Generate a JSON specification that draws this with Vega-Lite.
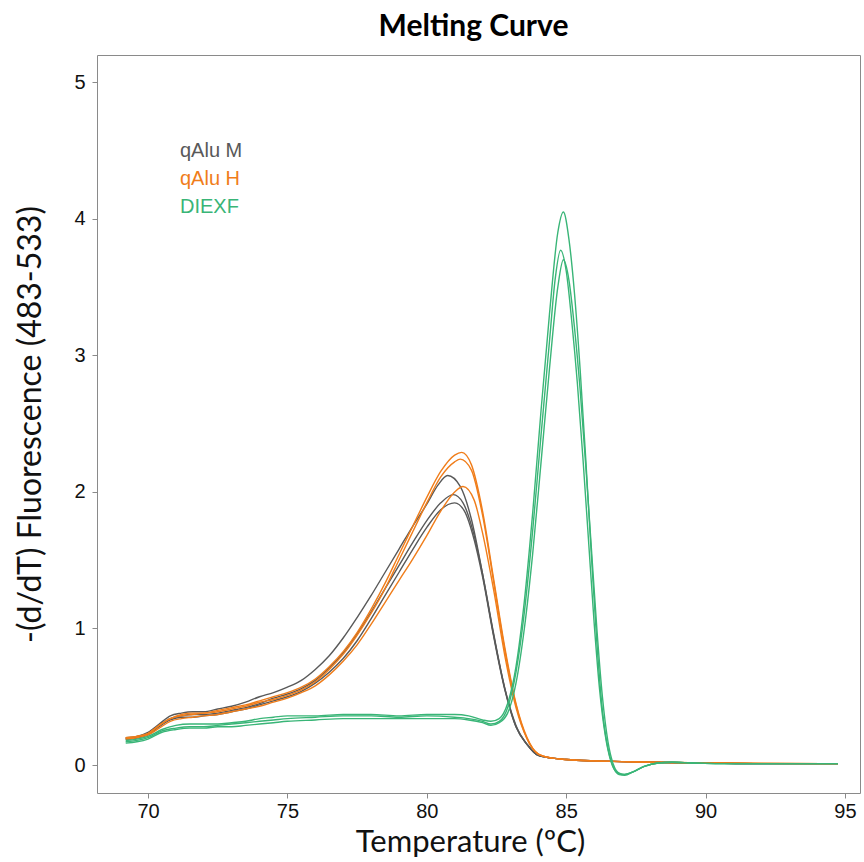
{
  "$schema": "https://vega.github.io/schema/vega-lite/v6.json",
  "autosize": {"type": "none"},
  "width": 763,
  "height": 738,
  "padding": {"left": 97, "top": 55, "right": 4, "bottom": 69},
  "background": "white",
  "title": {"text": "Melting Curve", "font": "Lato", "fontSize": 30, "fontWeight": "bold", "color": "black", "anchor": "middle", "offset": 13, "dx": -5},
  "config": {
    "view": {"stroke": "#8a8a8a", "strokeWidth": 1},
    "axis": {"grid": false, "domain": false, "tickColor": "#8a8a8a", "tickSize": 5, "labelColor": "#111", "titleColor": "#111", "titleFont": "Lato", "titleFontWeight": "normal", "titleFontSize": 32, "labelFont": "Liberation Sans"}
  },
  "datasets": {
    "curves": [
      {"r":"M1","a":"qAlu M","t":69.2,"f":0.20},{"r":"M1","a":"qAlu M","t":69.6,"f":0.21},{"r":"M1","a":"qAlu M","t":70.0,"f":0.24},{"r":"M1","a":"qAlu M","t":70.4,"f":0.30},{"r":"M1","a":"qAlu M","t":70.8,"f":0.36},{"r":"M1","a":"qAlu M","t":71.2,"f":0.38},{"r":"M1","a":"qAlu M","t":71.6,"f":0.39},{"r":"M1","a":"qAlu M","t":72.0,"f":0.39},{"r":"M1","a":"qAlu M","t":72.5,"f":0.41},{"r":"M1","a":"qAlu M","t":73.0,"f":0.43},{"r":"M1","a":"qAlu M","t":73.5,"f":0.46},{"r":"M1","a":"qAlu M","t":74.0,"f":0.50},{"r":"M1","a":"qAlu M","t":74.5,"f":0.53},{"r":"M1","a":"qAlu M","t":75.0,"f":0.57},{"r":"M1","a":"qAlu M","t":75.5,"f":0.62},{"r":"M1","a":"qAlu M","t":76.0,"f":0.70},{"r":"M1","a":"qAlu M","t":76.5,"f":0.80},{"r":"M1","a":"qAlu M","t":77.0,"f":0.93},{"r":"M1","a":"qAlu M","t":77.5,"f":1.08},{"r":"M1","a":"qAlu M","t":78.0,"f":1.24},{"r":"M1","a":"qAlu M","t":78.5,"f":1.41},{"r":"M1","a":"qAlu M","t":79.0,"f":1.58},{"r":"M1","a":"qAlu M","t":79.5,"f":1.75},{"r":"M1","a":"qAlu M","t":80.0,"f":1.91},{"r":"M1","a":"qAlu M","t":80.4,"f":2.05},{"r":"M1","a":"qAlu M","t":80.75,"f":2.12},{"r":"M1","a":"qAlu M","t":81.2,"f":2.04},{"r":"M1","a":"qAlu M","t":81.6,"f":1.80},{"r":"M1","a":"qAlu M","t":82.0,"f":1.40},{"r":"M1","a":"qAlu M","t":82.4,"f":0.95},{"r":"M1","a":"qAlu M","t":82.8,"f":0.56},{"r":"M1","a":"qAlu M","t":83.2,"f":0.28},{"r":"M1","a":"qAlu M","t":83.6,"f":0.15},{"r":"M1","a":"qAlu M","t":84.0,"f":0.07},{"r":"M1","a":"qAlu M","t":84.5,"f":0.05},{"r":"M1","a":"qAlu M","t":85.0,"f":0.04},{"r":"M1","a":"qAlu M","t":86.0,"f":0.03},{"r":"M1","a":"qAlu M","t":87.0,"f":0.025},{"r":"M1","a":"qAlu M","t":88.0,"f":0.02},{"r":"M1","a":"qAlu M","t":90.0,"f":0.015},{"r":"M1","a":"qAlu M","t":92.0,"f":0.01},{"r":"M1","a":"qAlu M","t":94.75,"f":0.01},

      {"r":"M2","a":"qAlu M","t":69.2,"f":0.19},{"r":"M2","a":"qAlu M","t":69.6,"f":0.20},{"r":"M2","a":"qAlu M","t":70.0,"f":0.23},{"r":"M2","a":"qAlu M","t":70.4,"f":0.29},{"r":"M2","a":"qAlu M","t":70.8,"f":0.34},{"r":"M2","a":"qAlu M","t":71.2,"f":0.36},{"r":"M2","a":"qAlu M","t":71.6,"f":0.37},{"r":"M2","a":"qAlu M","t":72.0,"f":0.37},{"r":"M2","a":"qAlu M","t":72.5,"f":0.38},{"r":"M2","a":"qAlu M","t":73.0,"f":0.40},{"r":"M2","a":"qAlu M","t":73.5,"f":0.42},{"r":"M2","a":"qAlu M","t":74.0,"f":0.45},{"r":"M2","a":"qAlu M","t":74.5,"f":0.49},{"r":"M2","a":"qAlu M","t":75.0,"f":0.52},{"r":"M2","a":"qAlu M","t":75.5,"f":0.56},{"r":"M2","a":"qAlu M","t":76.0,"f":0.62},{"r":"M2","a":"qAlu M","t":76.5,"f":0.71},{"r":"M2","a":"qAlu M","t":77.0,"f":0.82},{"r":"M2","a":"qAlu M","t":77.5,"f":0.96},{"r":"M2","a":"qAlu M","t":78.0,"f":1.12},{"r":"M2","a":"qAlu M","t":78.5,"f":1.29},{"r":"M2","a":"qAlu M","t":79.0,"f":1.46},{"r":"M2","a":"qAlu M","t":79.5,"f":1.63},{"r":"M2","a":"qAlu M","t":80.0,"f":1.79},{"r":"M2","a":"qAlu M","t":80.5,"f":1.92},{"r":"M2","a":"qAlu M","t":80.95,"f":1.98},{"r":"M2","a":"qAlu M","t":81.3,"f":1.92},{"r":"M2","a":"qAlu M","t":81.7,"f":1.68},{"r":"M2","a":"qAlu M","t":82.0,"f":1.40},{"r":"M2","a":"qAlu M","t":82.4,"f":0.96},{"r":"M2","a":"qAlu M","t":82.8,"f":0.56},{"r":"M2","a":"qAlu M","t":83.2,"f":0.29},{"r":"M2","a":"qAlu M","t":83.6,"f":0.15},{"r":"M2","a":"qAlu M","t":84.0,"f":0.07},{"r":"M2","a":"qAlu M","t":84.5,"f":0.05},{"r":"M2","a":"qAlu M","t":85.0,"f":0.04},{"r":"M2","a":"qAlu M","t":86.0,"f":0.03},{"r":"M2","a":"qAlu M","t":87.0,"f":0.025},{"r":"M2","a":"qAlu M","t":88.0,"f":0.02},{"r":"M2","a":"qAlu M","t":90.0,"f":0.015},{"r":"M2","a":"qAlu M","t":92.0,"f":0.01},{"r":"M2","a":"qAlu M","t":94.75,"f":0.01},

      {"r":"M3","a":"qAlu M","t":69.2,"f":0.19},{"r":"M3","a":"qAlu M","t":69.6,"f":0.20},{"r":"M3","a":"qAlu M","t":70.0,"f":0.22},{"r":"M3","a":"qAlu M","t":70.4,"f":0.28},{"r":"M3","a":"qAlu M","t":70.8,"f":0.33},{"r":"M3","a":"qAlu M","t":71.2,"f":0.35},{"r":"M3","a":"qAlu M","t":71.6,"f":0.35},{"r":"M3","a":"qAlu M","t":72.0,"f":0.36},{"r":"M3","a":"qAlu M","t":72.5,"f":0.37},{"r":"M3","a":"qAlu M","t":73.0,"f":0.39},{"r":"M3","a":"qAlu M","t":73.5,"f":0.41},{"r":"M3","a":"qAlu M","t":74.0,"f":0.44},{"r":"M3","a":"qAlu M","t":74.5,"f":0.47},{"r":"M3","a":"qAlu M","t":75.0,"f":0.50},{"r":"M3","a":"qAlu M","t":75.5,"f":0.54},{"r":"M3","a":"qAlu M","t":76.0,"f":0.60},{"r":"M3","a":"qAlu M","t":76.5,"f":0.68},{"r":"M3","a":"qAlu M","t":77.0,"f":0.78},{"r":"M3","a":"qAlu M","t":77.5,"f":0.91},{"r":"M3","a":"qAlu M","t":78.0,"f":1.07},{"r":"M3","a":"qAlu M","t":78.5,"f":1.24},{"r":"M3","a":"qAlu M","t":79.0,"f":1.41},{"r":"M3","a":"qAlu M","t":79.5,"f":1.58},{"r":"M3","a":"qAlu M","t":80.0,"f":1.74},{"r":"M3","a":"qAlu M","t":80.5,"f":1.87},{"r":"M3","a":"qAlu M","t":81.0,"f":1.92},{"r":"M3","a":"qAlu M","t":81.35,"f":1.86},{"r":"M3","a":"qAlu M","t":81.7,"f":1.65},{"r":"M3","a":"qAlu M","t":82.0,"f":1.38},{"r":"M3","a":"qAlu M","t":82.4,"f":0.94},{"r":"M3","a":"qAlu M","t":82.8,"f":0.55},{"r":"M3","a":"qAlu M","t":83.2,"f":0.28},{"r":"M3","a":"qAlu M","t":83.6,"f":0.15},{"r":"M3","a":"qAlu M","t":84.0,"f":0.07},{"r":"M3","a":"qAlu M","t":84.5,"f":0.05},{"r":"M3","a":"qAlu M","t":85.0,"f":0.04},{"r":"M3","a":"qAlu M","t":86.0,"f":0.03},{"r":"M3","a":"qAlu M","t":87.0,"f":0.025},{"r":"M3","a":"qAlu M","t":88.0,"f":0.02},{"r":"M3","a":"qAlu M","t":90.0,"f":0.015},{"r":"M3","a":"qAlu M","t":92.0,"f":0.01},{"r":"M3","a":"qAlu M","t":94.75,"f":0.01},

      {"r":"H1","a":"qAlu H","t":69.2,"f":0.20},{"r":"H1","a":"qAlu H","t":69.6,"f":0.21},{"r":"H1","a":"qAlu H","t":70.0,"f":0.23},{"r":"H1","a":"qAlu H","t":70.4,"f":0.29},{"r":"H1","a":"qAlu H","t":70.8,"f":0.34},{"r":"H1","a":"qAlu H","t":71.2,"f":0.37},{"r":"H1","a":"qAlu H","t":71.6,"f":0.38},{"r":"H1","a":"qAlu H","t":72.0,"f":0.38},{"r":"H1","a":"qAlu H","t":72.5,"f":0.40},{"r":"H1","a":"qAlu H","t":73.0,"f":0.42},{"r":"H1","a":"qAlu H","t":73.5,"f":0.44},{"r":"H1","a":"qAlu H","t":74.0,"f":0.47},{"r":"H1","a":"qAlu H","t":74.5,"f":0.50},{"r":"H1","a":"qAlu H","t":75.0,"f":0.53},{"r":"H1","a":"qAlu H","t":75.5,"f":0.57},{"r":"H1","a":"qAlu H","t":76.0,"f":0.63},{"r":"H1","a":"qAlu H","t":76.5,"f":0.72},{"r":"H1","a":"qAlu H","t":77.0,"f":0.83},{"r":"H1","a":"qAlu H","t":77.5,"f":0.97},{"r":"H1","a":"qAlu H","t":78.0,"f":1.14},{"r":"H1","a":"qAlu H","t":78.5,"f":1.33},{"r":"H1","a":"qAlu H","t":79.0,"f":1.54},{"r":"H1","a":"qAlu H","t":79.5,"f":1.75},{"r":"H1","a":"qAlu H","t":80.0,"f":1.96},{"r":"H1","a":"qAlu H","t":80.5,"f":2.15},{"r":"H1","a":"qAlu H","t":81.0,"f":2.27},{"r":"H1","a":"qAlu H","t":81.25,"f":2.29},{"r":"H1","a":"qAlu H","t":81.6,"f":2.20},{"r":"H1","a":"qAlu H","t":82.0,"f":1.86},{"r":"H1","a":"qAlu H","t":82.4,"f":1.36},{"r":"H1","a":"qAlu H","t":82.8,"f":0.86},{"r":"H1","a":"qAlu H","t":83.2,"f":0.45},{"r":"H1","a":"qAlu H","t":83.6,"f":0.20},{"r":"H1","a":"qAlu H","t":84.0,"f":0.08},{"r":"H1","a":"qAlu H","t":84.5,"f":0.05},{"r":"H1","a":"qAlu H","t":85.0,"f":0.04},{"r":"H1","a":"qAlu H","t":86.0,"f":0.03},{"r":"H1","a":"qAlu H","t":87.0,"f":0.025},{"r":"H1","a":"qAlu H","t":88.0,"f":0.02},{"r":"H1","a":"qAlu H","t":90.0,"f":0.015},{"r":"H1","a":"qAlu H","t":92.0,"f":0.012},{"r":"H1","a":"qAlu H","t":94.75,"f":0.01},

      {"r":"H2","a":"qAlu H","t":69.2,"f":0.20},{"r":"H2","a":"qAlu H","t":69.6,"f":0.21},{"r":"H2","a":"qAlu H","t":70.0,"f":0.23},{"r":"H2","a":"qAlu H","t":70.4,"f":0.29},{"r":"H2","a":"qAlu H","t":70.8,"f":0.34},{"r":"H2","a":"qAlu H","t":71.2,"f":0.36},{"r":"H2","a":"qAlu H","t":71.6,"f":0.37},{"r":"H2","a":"qAlu H","t":72.0,"f":0.38},{"r":"H2","a":"qAlu H","t":72.5,"f":0.39},{"r":"H2","a":"qAlu H","t":73.0,"f":0.41},{"r":"H2","a":"qAlu H","t":73.5,"f":0.43},{"r":"H2","a":"qAlu H","t":74.0,"f":0.46},{"r":"H2","a":"qAlu H","t":74.5,"f":0.48},{"r":"H2","a":"qAlu H","t":75.0,"f":0.51},{"r":"H2","a":"qAlu H","t":75.5,"f":0.55},{"r":"H2","a":"qAlu H","t":76.0,"f":0.61},{"r":"H2","a":"qAlu H","t":76.5,"f":0.70},{"r":"H2","a":"qAlu H","t":77.0,"f":0.81},{"r":"H2","a":"qAlu H","t":77.5,"f":0.95},{"r":"H2","a":"qAlu H","t":78.0,"f":1.11},{"r":"H2","a":"qAlu H","t":78.5,"f":1.29},{"r":"H2","a":"qAlu H","t":79.0,"f":1.50},{"r":"H2","a":"qAlu H","t":79.5,"f":1.71},{"r":"H2","a":"qAlu H","t":80.0,"f":1.92},{"r":"H2","a":"qAlu H","t":80.5,"f":2.11},{"r":"H2","a":"qAlu H","t":81.0,"f":2.22},{"r":"H2","a":"qAlu H","t":81.2,"f":2.24},{"r":"H2","a":"qAlu H","t":81.6,"f":2.16},{"r":"H2","a":"qAlu H","t":82.0,"f":1.83},{"r":"H2","a":"qAlu H","t":82.4,"f":1.34},{"r":"H2","a":"qAlu H","t":82.8,"f":0.84},{"r":"H2","a":"qAlu H","t":83.2,"f":0.44},{"r":"H2","a":"qAlu H","t":83.6,"f":0.19},{"r":"H2","a":"qAlu H","t":84.0,"f":0.08},{"r":"H2","a":"qAlu H","t":84.5,"f":0.05},{"r":"H2","a":"qAlu H","t":85.0,"f":0.04},{"r":"H2","a":"qAlu H","t":86.0,"f":0.03},{"r":"H2","a":"qAlu H","t":87.0,"f":0.025},{"r":"H2","a":"qAlu H","t":88.0,"f":0.02},{"r":"H2","a":"qAlu H","t":90.0,"f":0.015},{"r":"H2","a":"qAlu H","t":92.0,"f":0.012},{"r":"H2","a":"qAlu H","t":94.75,"f":0.01},

      {"r":"H3","a":"qAlu H","t":69.2,"f":0.19},{"r":"H3","a":"qAlu H","t":69.6,"f":0.20},{"r":"H3","a":"qAlu H","t":70.0,"f":0.22},{"r":"H3","a":"qAlu H","t":70.4,"f":0.27},{"r":"H3","a":"qAlu H","t":70.8,"f":0.32},{"r":"H3","a":"qAlu H","t":71.2,"f":0.34},{"r":"H3","a":"qAlu H","t":71.6,"f":0.35},{"r":"H3","a":"qAlu H","t":72.0,"f":0.36},{"r":"H3","a":"qAlu H","t":72.5,"f":0.37},{"r":"H3","a":"qAlu H","t":73.0,"f":0.39},{"r":"H3","a":"qAlu H","t":73.5,"f":0.41},{"r":"H3","a":"qAlu H","t":74.0,"f":0.43},{"r":"H3","a":"qAlu H","t":74.5,"f":0.46},{"r":"H3","a":"qAlu H","t":75.0,"f":0.49},{"r":"H3","a":"qAlu H","t":75.5,"f":0.53},{"r":"H3","a":"qAlu H","t":76.0,"f":0.58},{"r":"H3","a":"qAlu H","t":76.5,"f":0.66},{"r":"H3","a":"qAlu H","t":77.0,"f":0.76},{"r":"H3","a":"qAlu H","t":77.5,"f":0.88},{"r":"H3","a":"qAlu H","t":78.0,"f":1.03},{"r":"H3","a":"qAlu H","t":78.5,"f":1.19},{"r":"H3","a":"qAlu H","t":79.0,"f":1.35},{"r":"H3","a":"qAlu H","t":79.5,"f":1.51},{"r":"H3","a":"qAlu H","t":80.0,"f":1.68},{"r":"H3","a":"qAlu H","t":80.5,"f":1.86},{"r":"H3","a":"qAlu H","t":81.0,"f":2.00},{"r":"H3","a":"qAlu H","t":81.3,"f":2.04},{"r":"H3","a":"qAlu H","t":81.7,"f":1.94},{"r":"H3","a":"qAlu H","t":82.0,"f":1.70},{"r":"H3","a":"qAlu H","t":82.4,"f":1.28},{"r":"H3","a":"qAlu H","t":82.8,"f":0.80},{"r":"H3","a":"qAlu H","t":83.2,"f":0.42},{"r":"H3","a":"qAlu H","t":83.6,"f":0.19},{"r":"H3","a":"qAlu H","t":84.0,"f":0.08},{"r":"H3","a":"qAlu H","t":84.5,"f":0.05},{"r":"H3","a":"qAlu H","t":85.0,"f":0.04},{"r":"H3","a":"qAlu H","t":86.0,"f":0.03},{"r":"H3","a":"qAlu H","t":87.0,"f":0.025},{"r":"H3","a":"qAlu H","t":88.0,"f":0.02},{"r":"H3","a":"qAlu H","t":90.0,"f":0.015},{"r":"H3","a":"qAlu H","t":92.0,"f":0.012},{"r":"H3","a":"qAlu H","t":94.75,"f":0.01},

      {"r":"G1","a":"DIEXF","t":69.2,"f":0.18},{"r":"G1","a":"DIEXF","t":69.6,"f":0.19},{"r":"G1","a":"DIEXF","t":70.0,"f":0.21},{"r":"G1","a":"DIEXF","t":70.5,"f":0.26},{"r":"G1","a":"DIEXF","t":71.0,"f":0.29},{"r":"G1","a":"DIEXF","t":71.5,"f":0.30},{"r":"G1","a":"DIEXF","t":72.0,"f":0.30},{"r":"G1","a":"DIEXF","t":72.5,"f":0.30},{"r":"G1","a":"DIEXF","t":73.0,"f":0.31},{"r":"G1","a":"DIEXF","t":73.5,"f":0.32},{"r":"G1","a":"DIEXF","t":74.0,"f":0.34},{"r":"G1","a":"DIEXF","t":74.5,"f":0.35},{"r":"G1","a":"DIEXF","t":75.0,"f":0.36},{"r":"G1","a":"DIEXF","t":76.0,"f":0.36},{"r":"G1","a":"DIEXF","t":77.0,"f":0.37},{"r":"G1","a":"DIEXF","t":78.0,"f":0.37},{"r":"G1","a":"DIEXF","t":79.0,"f":0.36},{"r":"G1","a":"DIEXF","t":80.0,"f":0.37},{"r":"G1","a":"DIEXF","t":81.0,"f":0.37},{"r":"G1","a":"DIEXF","t":81.5,"f":0.36},{"r":"G1","a":"DIEXF","t":82.0,"f":0.33},{"r":"G1","a":"DIEXF","t":82.3,"f":0.32},{"r":"G1","a":"DIEXF","t":82.6,"f":0.34},{"r":"G1","a":"DIEXF","t":82.9,"f":0.45},{"r":"G1","a":"DIEXF","t":83.2,"f":0.72},{"r":"G1","a":"DIEXF","t":83.5,"f":1.20},{"r":"G1","a":"DIEXF","t":83.8,"f":1.85},{"r":"G1","a":"DIEXF","t":84.1,"f":2.60},{"r":"G1","a":"DIEXF","t":84.4,"f":3.30},{"r":"G1","a":"DIEXF","t":84.7,"f":3.90},{"r":"G1","a":"DIEXF","t":84.9,"f":4.05},{"r":"G1","a":"DIEXF","t":85.1,"f":3.85},{"r":"G1","a":"DIEXF","t":85.3,"f":3.45},{"r":"G1","a":"DIEXF","t":85.5,"f":2.90},{"r":"G1","a":"DIEXF","t":85.7,"f":2.25},{"r":"G1","a":"DIEXF","t":85.9,"f":1.55},{"r":"G1","a":"DIEXF","t":86.1,"f":0.90},{"r":"G1","a":"DIEXF","t":86.3,"f":0.40},{"r":"G1","a":"DIEXF","t":86.5,"f":0.12},{"r":"G1","a":"DIEXF","t":86.7,"f":-0.02},{"r":"G1","a":"DIEXF","t":86.9,"f":-0.07},{"r":"G1","a":"DIEXF","t":87.1,"f":-0.075},{"r":"G1","a":"DIEXF","t":87.4,"f":-0.05},{"r":"G1","a":"DIEXF","t":87.8,"f":-0.01},{"r":"G1","a":"DIEXF","t":88.3,"f":0.015},{"r":"G1","a":"DIEXF","t":88.8,"f":0.02},{"r":"G1","a":"DIEXF","t":89.5,"f":0.015},{"r":"G1","a":"DIEXF","t":90.5,"f":0.01},{"r":"G1","a":"DIEXF","t":92.0,"f":0.01},{"r":"G1","a":"DIEXF","t":94.75,"f":0.01},

      {"r":"G2","a":"DIEXF","t":69.2,"f":0.17},{"r":"G2","a":"DIEXF","t":69.6,"f":0.18},{"r":"G2","a":"DIEXF","t":70.0,"f":0.20},{"r":"G2","a":"DIEXF","t":70.5,"f":0.25},{"r":"G2","a":"DIEXF","t":71.0,"f":0.27},{"r":"G2","a":"DIEXF","t":71.5,"f":0.28},{"r":"G2","a":"DIEXF","t":72.0,"f":0.28},{"r":"G2","a":"DIEXF","t":72.5,"f":0.29},{"r":"G2","a":"DIEXF","t":73.0,"f":0.30},{"r":"G2","a":"DIEXF","t":73.5,"f":0.31},{"r":"G2","a":"DIEXF","t":74.0,"f":0.32},{"r":"G2","a":"DIEXF","t":74.5,"f":0.33},{"r":"G2","a":"DIEXF","t":75.0,"f":0.34},{"r":"G2","a":"DIEXF","t":76.0,"f":0.35},{"r":"G2","a":"DIEXF","t":77.0,"f":0.36},{"r":"G2","a":"DIEXF","t":78.0,"f":0.36},{"r":"G2","a":"DIEXF","t":79.0,"f":0.35},{"r":"G2","a":"DIEXF","t":80.0,"f":0.36},{"r":"G2","a":"DIEXF","t":81.0,"f":0.35},{"r":"G2","a":"DIEXF","t":81.5,"f":0.34},{"r":"G2","a":"DIEXF","t":82.0,"f":0.32},{"r":"G2","a":"DIEXF","t":82.3,"f":0.30},{"r":"G2","a":"DIEXF","t":82.6,"f":0.32},{"r":"G2","a":"DIEXF","t":82.9,"f":0.42},{"r":"G2","a":"DIEXF","t":83.2,"f":0.68},{"r":"G2","a":"DIEXF","t":83.5,"f":1.12},{"r":"G2","a":"DIEXF","t":83.8,"f":1.72},{"r":"G2","a":"DIEXF","t":84.1,"f":2.42},{"r":"G2","a":"DIEXF","t":84.4,"f":3.10},{"r":"G2","a":"DIEXF","t":84.6,"f":3.55},{"r":"G2","a":"DIEXF","t":84.8,"f":3.77},{"r":"G2","a":"DIEXF","t":85.0,"f":3.62},{"r":"G2","a":"DIEXF","t":85.2,"f":3.25},{"r":"G2","a":"DIEXF","t":85.4,"f":2.80},{"r":"G2","a":"DIEXF","t":85.6,"f":2.25},{"r":"G2","a":"DIEXF","t":85.8,"f":1.65},{"r":"G2","a":"DIEXF","t":86.0,"f":1.05},{"r":"G2","a":"DIEXF","t":86.2,"f":0.55},{"r":"G2","a":"DIEXF","t":86.4,"f":0.22},{"r":"G2","a":"DIEXF","t":86.6,"f":0.03},{"r":"G2","a":"DIEXF","t":86.8,"f":-0.05},{"r":"G2","a":"DIEXF","t":87.05,"f":-0.07},{"r":"G2","a":"DIEXF","t":87.4,"f":-0.05},{"r":"G2","a":"DIEXF","t":87.8,"f":-0.01},{"r":"G2","a":"DIEXF","t":88.3,"f":0.015},{"r":"G2","a":"DIEXF","t":88.8,"f":0.02},{"r":"G2","a":"DIEXF","t":89.5,"f":0.015},{"r":"G2","a":"DIEXF","t":90.5,"f":0.01},{"r":"G2","a":"DIEXF","t":92.0,"f":0.01},{"r":"G2","a":"DIEXF","t":94.75,"f":0.01},

      {"r":"G3","a":"DIEXF","t":69.2,"f":0.16},{"r":"G3","a":"DIEXF","t":69.6,"f":0.17},{"r":"G3","a":"DIEXF","t":70.0,"f":0.19},{"r":"G3","a":"DIEXF","t":70.5,"f":0.24},{"r":"G3","a":"DIEXF","t":71.0,"f":0.26},{"r":"G3","a":"DIEXF","t":71.5,"f":0.27},{"r":"G3","a":"DIEXF","t":72.0,"f":0.27},{"r":"G3","a":"DIEXF","t":72.5,"f":0.28},{"r":"G3","a":"DIEXF","t":73.0,"f":0.28},{"r":"G3","a":"DIEXF","t":73.5,"f":0.29},{"r":"G3","a":"DIEXF","t":74.0,"f":0.30},{"r":"G3","a":"DIEXF","t":74.5,"f":0.31},{"r":"G3","a":"DIEXF","t":75.0,"f":0.32},{"r":"G3","a":"DIEXF","t":76.0,"f":0.33},{"r":"G3","a":"DIEXF","t":77.0,"f":0.34},{"r":"G3","a":"DIEXF","t":78.0,"f":0.34},{"r":"G3","a":"DIEXF","t":79.0,"f":0.34},{"r":"G3","a":"DIEXF","t":80.0,"f":0.34},{"r":"G3","a":"DIEXF","t":81.0,"f":0.34},{"r":"G3","a":"DIEXF","t":81.5,"f":0.33},{"r":"G3","a":"DIEXF","t":82.0,"f":0.31},{"r":"G3","a":"DIEXF","t":82.3,"f":0.29},{"r":"G3","a":"DIEXF","t":82.6,"f":0.31},{"r":"G3","a":"DIEXF","t":82.9,"f":0.38},{"r":"G3","a":"DIEXF","t":83.2,"f":0.60},{"r":"G3","a":"DIEXF","t":83.5,"f":1.00},{"r":"G3","a":"DIEXF","t":83.8,"f":1.55},{"r":"G3","a":"DIEXF","t":84.1,"f":2.22},{"r":"G3","a":"DIEXF","t":84.4,"f":2.90},{"r":"G3","a":"DIEXF","t":84.7,"f":3.50},{"r":"G3","a":"DIEXF","t":84.9,"f":3.70},{"r":"G3","a":"DIEXF","t":85.1,"f":3.55},{"r":"G3","a":"DIEXF","t":85.3,"f":3.20},{"r":"G3","a":"DIEXF","t":85.5,"f":2.75},{"r":"G3","a":"DIEXF","t":85.7,"f":2.20},{"r":"G3","a":"DIEXF","t":85.9,"f":1.60},{"r":"G3","a":"DIEXF","t":86.1,"f":1.00},{"r":"G3","a":"DIEXF","t":86.3,"f":0.50},{"r":"G3","a":"DIEXF","t":86.5,"f":0.17},{"r":"G3","a":"DIEXF","t":86.7,"f":0.0},{"r":"G3","a":"DIEXF","t":86.9,"f":-0.06},{"r":"G3","a":"DIEXF","t":87.1,"f":-0.07},{"r":"G3","a":"DIEXF","t":87.4,"f":-0.05},{"r":"G3","a":"DIEXF","t":87.8,"f":-0.01},{"r":"G3","a":"DIEXF","t":88.3,"f":0.015},{"r":"G3","a":"DIEXF","t":88.8,"f":0.02},{"r":"G3","a":"DIEXF","t":89.5,"f":0.015},{"r":"G3","a":"DIEXF","t":90.5,"f":0.01},{"r":"G3","a":"DIEXF","t":92.0,"f":0.01},{"r":"G3","a":"DIEXF","t":94.75,"f":0.01}
    ]
  },
  "data": {"name": "curves"},
  "mark": {"type": "line", "interpolate": "monotone", "strokeWidth": 1.4},
  "encoding": {
    "x": {"field": "t", "type": "quantitative", "title": "Temperature (ºC)",
      "scale": {"domain": [68.17, 95.54], "nice": false, "zero": false},
      "axis": {"values": [70, 75, 80, 85, 90, 95], "labelFontSize": 20, "labelPadding": 3, "titlePadding": 6, "titleFontSize": 31, "titleX": 373}},
    "y": {"field": "f", "type": "quantitative", "title": "-(d/dT) Fluorescence (483-533)",
      "scale": {"domain": [-0.205, 5.2], "nice": false, "zero": false},
      "axis": {"values": [0, 1, 2, 3, 4, 5], "labelFontSize": 20, "labelPadding": 7, "titlePadding": 26}},
    "color": {"field": "a", "type": "nominal",
      "scale": {"domain": ["qAlu M", "qAlu H", "DIEXF"], "range": ["#595959", "#f07d1a", "#39b577"]},
      "legend": {"title": null, "orient": "none", "legendX": 63, "legendY": 86, "padding": 0,
        "symbolSize": 0, "symbolOpacity": 0, "symbolStrokeWidth": 0, "labelOffset": 0,
        "labelFont": "Liberation Sans", "labelFontSize": 20, "rowPadding": 8,
        "labelColor": {"expr": "scale('color', datum.value)"}}},
    "detail": {"field": "r", "type": "nominal"}
  }
}
